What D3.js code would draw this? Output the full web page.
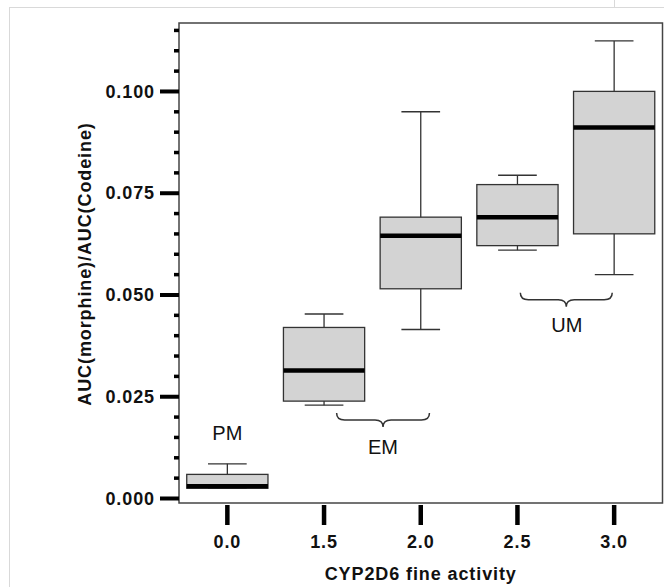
<!DOCTYPE html>
<html>
<head>
<meta charset="utf-8">
<script src="https://cdn.jsdelivr.net/npm/d3@7"></script>
<style>
  body { margin: 0; background: #fff; }
  svg text { font-family: "Liberation Sans", Arial, sans-serif; fill: #111; }
  .bold { font-weight: bold; font-size: 18px; letter-spacing: 0.9px; }
  .grp { font-size: 20px; }
</style>
</head>
<body>
<div id="viz"></div>
<script>
// boxplot summaries
var activity = ["0.0", "1.5", "2.0", "2.5", "3.0"];
var whiskerLow  = [0.0024, 0.0228, 0.0414, 0.0609, 0.0549];
var q1          = [0.0024, 0.0238, 0.0514, 0.0620, 0.0649];
var median      = [0.0029, 0.0313, 0.0644, 0.0690, 0.0910];
var q3          = [0.0058, 0.0419, 0.0690, 0.0770, 0.0999];
var whiskerHigh = [0.0084, 0.0452, 0.0949, 0.0793, 0.1123];

var yMajor = [0, 0.025, 0.05, 0.075, 0.1];

// metaboliser groups (x in category index units, y in data units)
var groups     = ["PM", "EM", "UM"];
var groupX     = [0, 1.61, 3.51];
var groupY     = [0.0160, 0.0125, 0.0425];
var braceFrom  = [null, 1.13, 3.03];
var braceTo    = [null, 2.09, 3.98];
var braceY     = [null, 0.0209, 0.0504];

var W = 664, H = 587;
var box = {left: 179, right: 662.5, top: 23, bottom: 503};

var svg = d3.select("#viz").append("svg")
    .attr("width", W)
    .attr("height", H);

// light page frame
svg.append("line").attr("x1", 9).attr("x2", W).attr("y1", 7.5).attr("y2", 7.5)
    .style("stroke", "#d9d9d9");
svg.append("line").attr("x1", 9.5).attr("x2", 9.5).attr("y1", 7).attr("y2", H)
    .style("stroke", "#d9d9d9");
svg.append("line").attr("x1", 614.5).attr("x2", 614.5).attr("y1", 0).attr("y2", 7)
    .style("stroke", "#d9d9d9");

var x = d3.scaleBand()
    .domain(activity)
    .range([box.left, box.right])
    .paddingInner(0).paddingOuter(0);

var y = d3.scaleLinear()
    .domain([-0.00123, 0.1167])
    .range([box.bottom, box.top]);

var bw = x.bandwidth();
var xi = d3.scaleLinear()
    .domain([0, activity.length - 1])
    .range([x(activity[0]) + bw / 2, x(activity[activity.length - 1]) + bw / 2]);

var boxW = bw * 0.84;
var capW = bw * 0.40;

var data = activity.map(function(a, i){
    return {a: a, lo: whiskerLow[i], q1: q1[i], med: median[i], q3: q3[i], hi: whiskerHigh[i]};
});

var node = svg.selectAll("g.box")
    .data(data)
    .enter()
    .append("g")
    .attr("class", "box")
    .attr("transform", function(d){ return "translate(" + (x(d.a) + bw / 2) + ",0)"; });

// whiskers
node.append("line")
    .attr("x1", 0).attr("x2", 0)
    .attr("y1", function(d){ return y(d.hi); })
    .attr("y2", function(d){ return y(d.lo); })
    .style("stroke", "#333").style("stroke-width", 1.3);
node.append("line")
    .attr("x1", -capW / 2).attr("x2", capW / 2)
    .attr("y1", function(d){ return y(d.hi); })
    .attr("y2", function(d){ return y(d.hi); })
    .style("stroke", "#333").style("stroke-width", 1.3);
node.append("line")
    .attr("x1", -capW / 2).attr("x2", capW / 2)
    .attr("y1", function(d){ return y(d.lo); })
    .attr("y2", function(d){ return y(d.lo); })
    .style("stroke", "#333").style("stroke-width", 1.3);

node.append("rect")
    .attr("x", -boxW / 2)
    .attr("width", boxW)
    .attr("y", function(d){ return y(d.q3); })
    .attr("height", function(d){ return y(d.q1) - y(d.q3); })
    .style("fill", "#d3d3d3")
    .style("stroke", "#333")
    .style("stroke-width", 1.3);

node.append("line")
    .attr("x1", -boxW / 2).attr("x2", boxW / 2)
    .attr("y1", function(d){ return y(d.med); })
    .attr("y2", function(d){ return y(d.med); })
    .style("stroke", "#000").style("stroke-width", 4.5);

// plot frame
svg.append("rect")
    .attr("x", box.left).attr("y", box.top)
    .attr("width", box.right - box.left)
    .attr("height", box.bottom - box.top)
    .style("fill", "none")
    .style("stroke", "#444")
    .style("stroke-width", 1.5);

// y axis: minor then major ticks
var yMinor = d3.range(0, 0.1175, 0.005).filter(function(v){
    return yMajor.every(function(m){ return Math.abs(m - v) > 1e-6; });
});

var gMinor = svg.append("g")
    .attr("transform", "translate(" + box.left + ",0)")
    .call(d3.axisLeft(y).tickValues(yMinor).tickSize(5).tickFormat(""));
gMinor.select(".domain").remove();
gMinor.selectAll(".tick line").style("stroke", "#000").style("stroke-width", 3.5);

var gy = svg.append("g")
    .attr("transform", "translate(" + box.left + ",0)")
    .call(d3.axisLeft(y).tickValues(yMajor).tickSize(19).tickPadding(5).tickFormat(d3.format(".3f")));
gy.select(".domain").remove();
gy.selectAll(".tick line").style("stroke", "#000").style("stroke-width", 4);
gy.selectAll(".tick text").attr("class", "bold").attr("fill", null).attr("dy", "0.34em");

// x axis
var gx = svg.append("g")
    .attr("transform", "translate(0," + (box.bottom + 2) + ")")
    .call(d3.axisBottom(x).tickSize(20).tickPadding(10));
gx.select(".domain").remove();
gx.selectAll(".tick line").style("stroke", "#000").style("stroke-width", 4.5);
gx.selectAll(".tick text").attr("class", "bold").attr("fill", null);

// axis titles
svg.append("text")
    .attr("class", "bold")
    .attr("text-anchor", "middle")
    .attr("x", (box.left + box.right) / 2)
    .attr("y", 580)
    .text("CYP2D6 fine activity");

svg.append("text")
    .attr("class", "bold")
    .attr("text-anchor", "middle")
    .attr("transform", "translate(91,264) rotate(-90)")
    .text("AUC(morphine)/AUC(Codeine)");

// braces and group labels
var depth = 14;
groups.forEach(function(g, i){
    if (braceFrom[i] !== null) {
        var x1 = xi(braceFrom[i]), x2 = xi(braceTo[i]), xc = (x1 + x2) / 2;
        var y0 = y(braceY[i]), ym = y0 + depth / 2, yt = y0 + depth;
        var r = 8;
        var p = d3.path();
        p.moveTo(x1, y0);
        p.quadraticCurveTo(x1, ym, x1 + r, ym);
        p.lineTo(xc - r, ym);
        p.quadraticCurveTo(xc, ym, xc, yt);
        p.quadraticCurveTo(xc, ym, xc + r, ym);
        p.lineTo(x2 - r, ym);
        p.quadraticCurveTo(x2, ym, x2, y0);
        svg.append("path")
            .attr("d", p.toString())
            .style("fill", "none")
            .style("stroke", "#333")
            .style("stroke-width", 1.5);
    }
    svg.append("text")
        .attr("class", "grp")
        .attr("text-anchor", "middle")
        .attr("x", xi(groupX[i]))
        .attr("y", y(groupY[i]))
        .attr("dy", "0.35em")
        .text(g);
});
</script>
</body>
</html>
